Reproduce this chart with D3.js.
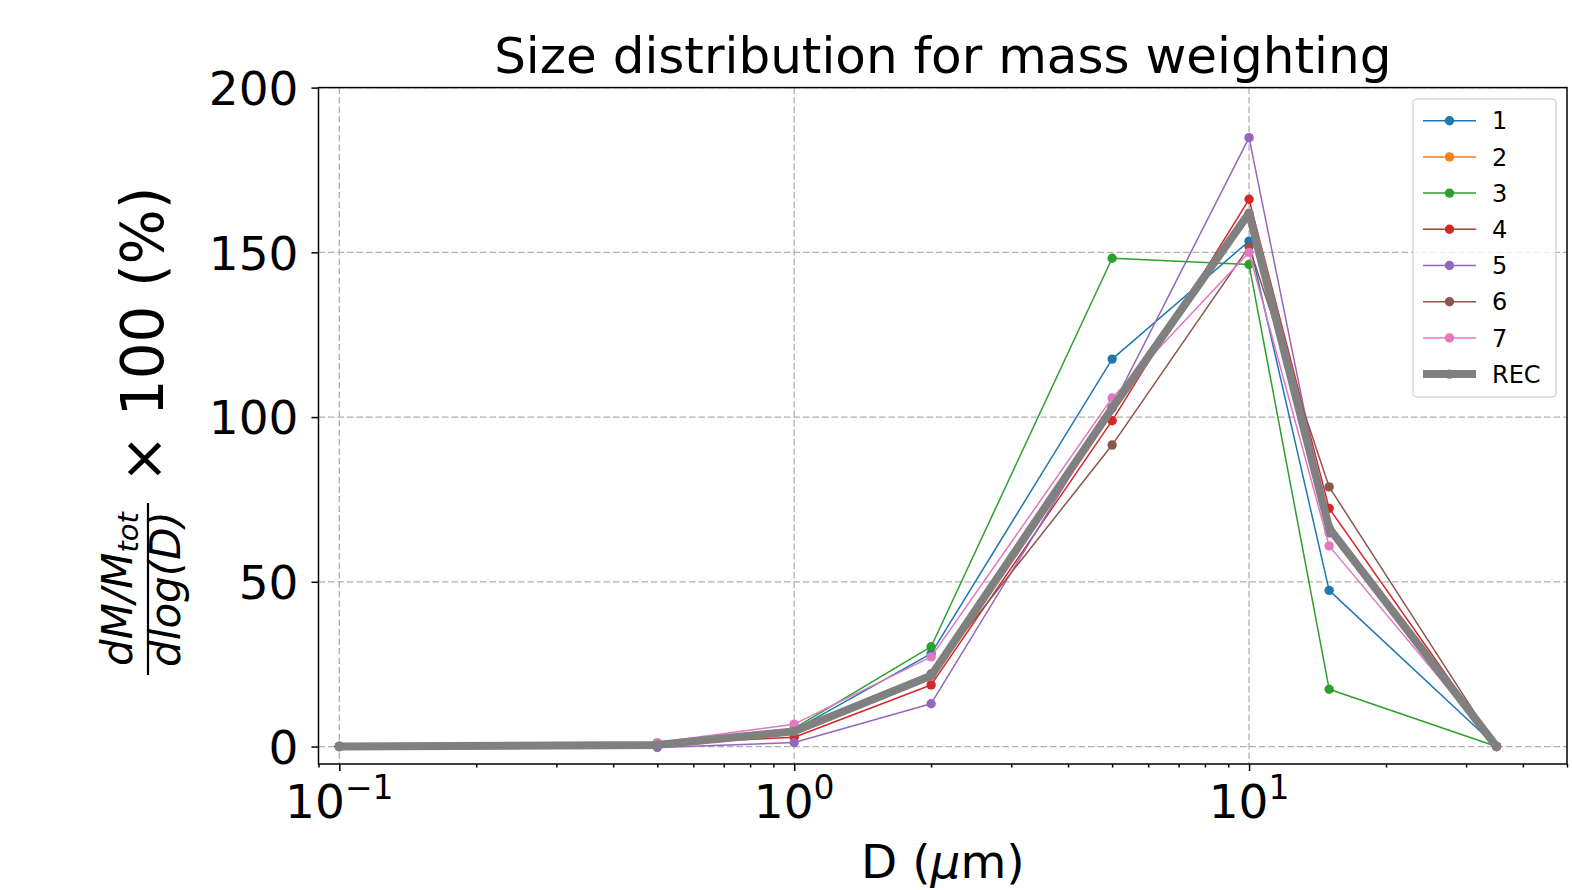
<!DOCTYPE html>
<html>
<head>
<meta charset="utf-8">
<script src="https://cdn.jsdelivr.net/npm/d3@7"></script>
<style>
  body { margin: 0; background: #fff; }
  svg { display: block; font-family: "DejaVu Sans", sans-serif; }
</style>
</head>
<body>
<div id="chart"></div>
<script>
// Diameters (um) and the curves
const diameters = [0.1, 0.5, 1, 2, 5, 10, 15, 35];
const seriesNames = ['1', '2', '3', '4', '5', '6', '7', 'REC'];
const s1 = [0, 0.8, 5, 28.2, 117.6, 153.4, 47.4, 0];
const s2 = [];  // not visible in the figure, only in the legend
const s3 = [0, 0.8, 5.5, 30.3, 148.2, 146.3, 17.4, 0];
const s4 = [0, 0.8, 2.8, 18.7, 98.9, 166.1, 72.3, 0];
const s5 = [0, -0.3, 1.2, 13, 103, 184.8, 64.8, 0];
const s6 = [0, 0.8, 4.5, 22, 91.5, 151.7, 78.8, 0];
const s7 = [0, 1.2, 6.8, 27.2, 105.8, 150, 60.9, 0];
const rec = [0, 0.5, 4.6, 21.5, 102.7, 161.9, 66.3, 0];
const colors = ['#1f77b4', '#ff7f0e', '#2ca02c', '#d62728', '#9467bd', '#8c564b', '#e377c2', '#808080'];
const yTicks = [0, 50, 100, 150, 200];
const xMajor = [0.1, 1, 10];
const xMajorExp = ['\u22121', '0', '1'];

const W = 1572, H = 890;
const pLeft = 318.5, pRight = 1567, pTop = 87.6, pBottom = 764;

const svg = d3.select('#chart').append('svg').attr('width', W).attr('height', H);

const x = d3.scaleLog().domain([0.09, 50]).range([pLeft, pRight]);
const y = d3.scaleLinear().domain([-5.3, 200]).range([pBottom, pTop]);

// Grid
const grid = svg.append('g').attr('stroke', '#b0b0b0').attr('stroke-width', 1.3).attr('stroke-dasharray', '6.5,3');
grid.selectAll('.gx').data(xMajor).enter().append('line')
    .attr('x1', d => x(d)).attr('x2', d => x(d)).attr('y1', pTop).attr('y2', pBottom);
grid.selectAll('.gy').data(yTicks).enter().append('line')
    .attr('x1', pLeft).attr('x2', pRight).attr('y1', d => y(d)).attr('y2', d => y(d));

// Lines
const allSeries = [s1, s2, s3, s4, s5, s6, s7, rec];
const line = d3.line().x(d => x(d[0])).y(d => y(d[1]));
const plot = svg.append('g');
allSeries.forEach((vals, i) => {
    const pts = vals.map((v, j) => [diameters[j], v]);
    const isRec = i === 7;
    plot.append('path')
        .datum(pts)
        .attr('d', line)
        .attr('fill', 'none')
        .attr('stroke', colors[i])
        .attr('stroke-width', isRec ? 8 : 1.5)
        .attr('stroke-linejoin', 'round');
    plot.selectAll(null).data(pts).enter().append('circle')
        .attr('cx', d => x(d[0])).attr('cy', d => y(d[1]))
        .attr('r', 4.7)
        .attr('fill', colors[i]);
});

// Axes
const xAxis = d3.axisBottom(x).tickValues(xMajor).tickSize(7).tickFormat('');
const minor = [];
[0.01, 0.1, 1, 10].forEach(b => { for (let k = 2; k <= 9; k++) { const v = b * k; if (v >= 0.09 && v <= 50) minor.push(v); } });
const xMinor = d3.axisBottom(x).tickValues(minor).tickSize(3.5).tickFormat('');
const gx = svg.append('g').attr('transform', `translate(0,${pBottom})`).call(xAxis);
const gxm = svg.append('g').attr('transform', `translate(0,${pBottom})`).call(xMinor);
const gy = svg.append('g').attr('transform', `translate(${pLeft},0)`)
    .call(d3.axisLeft(y).tickValues(yTicks).tickSize(7).tickPadding(13));
[gx, gxm, gy].forEach(g => {
    g.select('.domain').remove();
    g.selectAll('line').attr('stroke', '#000').attr('stroke-width', 1.5);
});
gy.selectAll('text').style('font-size', '47px').attr('fill', '#000').attr('dy', '0.36em')
    .style('font-family', '"DejaVu Sans", sans-serif');

// x tick labels 10^n
svg.selectAll('.xl').data(xMajor).enter().append('text')
    .attr('x', d => x(d)).attr('y', 818)
    .attr('text-anchor', 'middle')
    .style('font-size', '47px')
    .each(function (d, i) {
        const t = d3.select(this);
        t.append('tspan').text('10');
        t.append('tspan').attr('dy', -19).style('font-size', '33px').text(xMajorExp[i]);
    });

// Frame
svg.append('rect').attr('x', pLeft).attr('y', pTop).attr('width', pRight - pLeft).attr('height', pBottom - pTop)
    .attr('fill', 'none').attr('stroke', '#000').attr('stroke-width', 1.5);

// Title
svg.append('text').attr('x', (pLeft + pRight) / 2).attr('y', 73).attr('text-anchor', 'middle')
    .style('font-size', '50px').text('Size distribution for mass weighting');

// X label
const xl = svg.append('text').attr('x', (pLeft + pRight) / 2).attr('y', 878).attr('text-anchor', 'middle')
    .style('font-size', '47px');
xl.append('tspan').text('D (');
xl.append('tspan').style('font-style', 'oblique').text('\u03bc');
xl.append('tspan').text('m)');

// Y label (rotated)
const yl = svg.append('g').attr('transform', 'rotate(-90)');
yl.append('text').attr('x', -335).attr('y', 163).attr('text-anchor', 'middle')
    .style('font-size', '58px').text('\u00d7 100 (%)');
const num = yl.append('text').attr('x', -589).attr('y', 132).attr('text-anchor', 'middle')
    .style('font-size', '42px').style('font-style', 'oblique');
num.append('tspan').text('dM/M');
num.append('tspan').attr('dy', 6).style('font-size', '29px').text('tot');
yl.append('text').attr('x', -589).attr('y', 180).attr('text-anchor', 'middle')
    .style('font-size', '42px').style('font-style', 'oblique').text('dlog(D)');
yl.append('line').attr('x1', -675).attr('x2', -503).attr('y1', 148).attr('y2', 148)
    .attr('stroke', '#000').attr('stroke-width', 2.2);

// Legend
const lg = svg.append('g');
lg.append('rect').attr('x', 1413).attr('y', 99).attr('width', 143).attr('height', 298).attr('rx', 4)
    .attr('fill', 'rgba(255,255,255,0.8)').attr('stroke', '#d6d6d6').attr('stroke-width', 1.5);
seriesNames.forEach((name, i) => {
    const yy = 120.7 + i * 36.2;
    const isRec = i === 7;
    lg.append('line').attr('x1', 1423).attr('x2', 1476).attr('y1', yy).attr('y2', yy)
        .attr('stroke', colors[i]).attr('stroke-width', isRec ? 8 : 1.5);
    lg.append('circle').attr('cx', 1449.5).attr('cy', yy).attr('r', 4.7).attr('fill', colors[i]);
    lg.append('text').attr('x', 1492).attr('y', yy).attr('dy', '0.36em')
        .style('font-size', '24px').text(name);
});
</script>
</body>
</html>
